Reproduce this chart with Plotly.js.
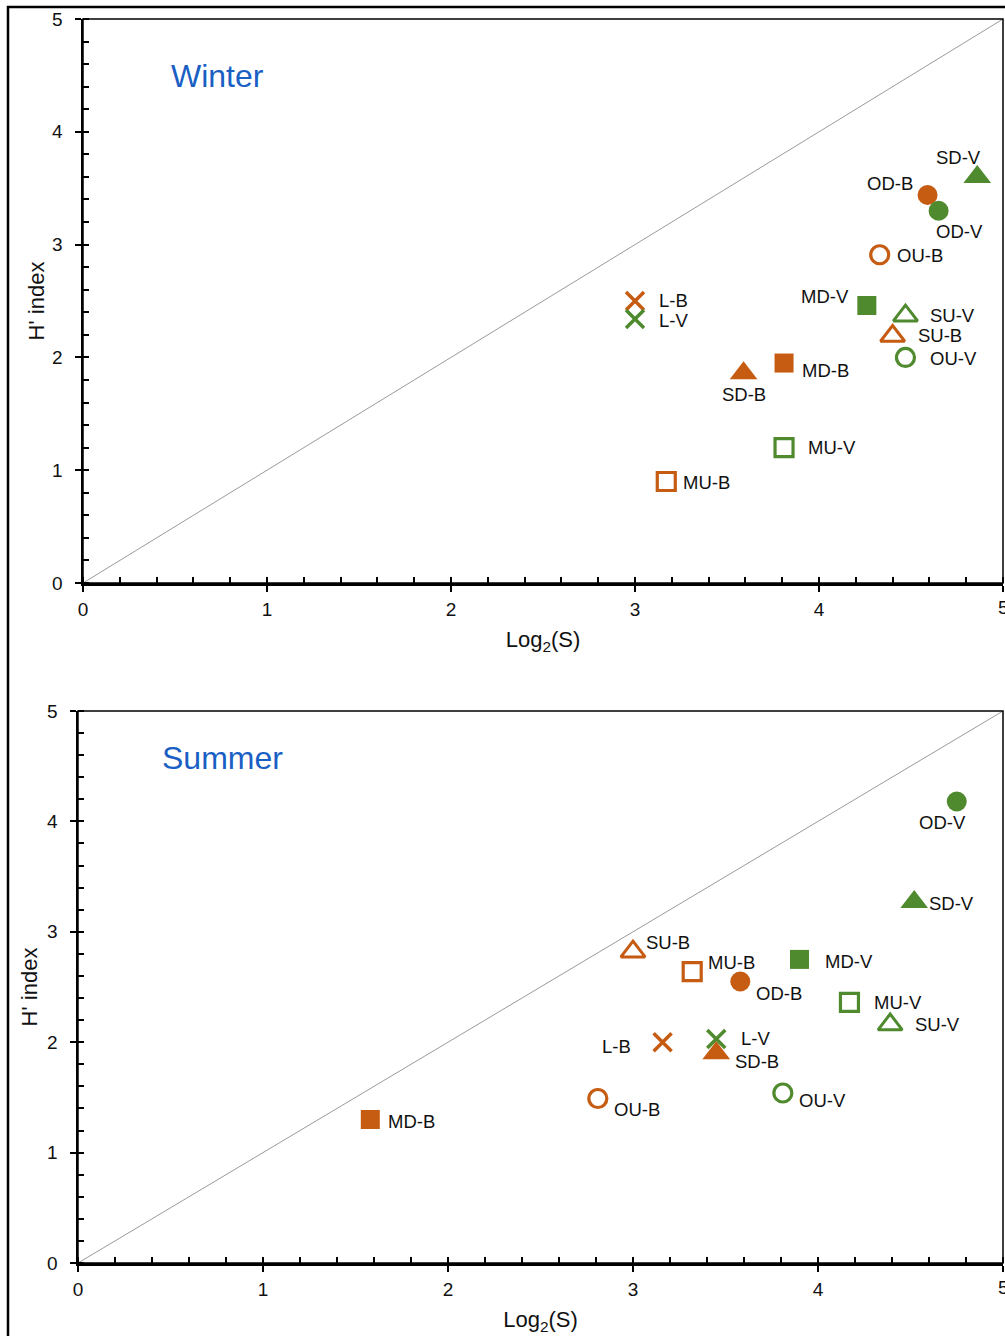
<!DOCTYPE html>
<html>
<head>
<meta charset="utf-8">
<script src="https://cdn.plot.ly/plotly-3.0.1.min.js"></script>
<style>
  html, body { margin: 0; padding: 0; background: #fff; }
  #chart { width: 1005px; height: 1336px; }
</style>
</head>
<body>
<div id="chart"></div>
<script>
// Sampling sites (B / V pairs) and their diversity values
const sites = ['L-B', 'L-V', 'SD-B', 'SD-V', 'SU-B', 'SU-V', 'MD-B', 'MD-V', 'MU-B', 'MU-V', 'OD-B', 'OD-V', 'OU-B', 'OU-V'];

// Winter: Log2(S) and H' index
const winterLog2S = [3.00, 3.00, 3.59, 4.86, 4.40, 4.47, 3.81, 4.26, 3.17, 3.81, 4.59, 4.65, 4.33, 4.47];
const winterH     = [2.50, 2.34, 1.86, 3.60, 2.19, 2.37, 1.95, 2.46, 0.90, 1.20, 3.44, 3.30, 2.91, 2.00];

// Summer: Log2(S) and H' index
const summerLog2S = [3.16, 3.45, 3.45, 4.52, 3.00, 4.39, 1.58, 3.90, 3.32, 4.17, 3.58, 4.75, 2.81, 3.81];
const summerH     = [2.00, 2.03, 1.90, 3.27, 2.82, 2.16, 1.30, 2.75, 2.64, 2.36, 2.55, 4.18, 1.49, 1.54];

const axisTicks = [0, 1, 2, 3, 4, 5];

// Marker styling per site
const ORANGE = '#C65B12';
const GREEN = '#4F8A2E';
const colors = sites.map(s => s.endsWith('-B') ? ORANGE : GREEN);
const symbolFor = { 'L': 'x-thin-open', 'SD': 'triangle-up', 'SU': 'triangle-up-open', 'MD': 'square', 'MU': 'square-open', 'OD': 'circle', 'OU': 'circle-open' };
const sizeFor = { 'L': 18, 'SD': 24, 'SU': 21, 'MD': 19, 'MU': 18, 'OD': 20, 'OU': 18 };
const lineFor = { 'L': 3.5, 'SD': 0, 'SU': 3, 'MD': 0, 'MU': 3.2, 'OD': 0, 'OU': 3.2 };
const kind = s => s.split('-')[0];
const symbols = sites.map(s => symbolFor[kind(s)]);
const sizes = sites.map(s => sizeFor[kind(s)]);
const lineWidths = sites.map(s => lineFor[kind(s)]);

// Label offsets (pixels, right / down) for each site
const winterLabelShift = {
  'L-B': [38, 0], 'L-V': [38, 1], 'SD-B': [0, 21], 'SD-V': [-19, -19],
  'SU-B': [47, 0], 'SU-V': [47, 0], 'MD-B': [41, 7], 'MD-V': [-42, -9],
  'MU-B': [40, 1], 'MU-V': [48, 0], 'OD-B': [-38, -11], 'OD-V': [21, 21],
  'OU-B': [40, 1], 'OU-V': [48, 1]
};
const summerLabelShift = {
  'L-B': [-46, 4], 'L-V': [39, 0], 'SD-B': [41, 8], 'SD-V': [37, 2],
  'SU-B': [35, -9], 'SU-V': [47, 0], 'MD-B': [41, 2], 'MD-V': [49, 2],
  'MU-B': [39, -9], 'MU-V': [49, 0], 'OD-B': [39, 12], 'OD-V': [-14, 21],
  'OU-B': [39, 11], 'OU-V': [40, 8]
};

const FONT = 'Liberation Sans, Arial, sans-serif';

function markerTrace(xs, ys, xa, ya) {
  return {
    type: 'scatter', mode: 'markers',
    x: xs, y: ys, xaxis: xa, yaxis: ya,
    text: sites, hoverinfo: 'text+x+y',
    marker: {
      symbol: symbols, size: sizes, color: colors, opacity: 1,
      line: { color: colors, width: lineWidths }
    },
    showlegend: false, cliponaxis: false
  };
}

function labelAnnotations(xs, ys, xref, yref, shifts) {
  return sites.map((s, i) => ({
    x: xs[i], y: ys[i], xref: xref, yref: yref,
    text: s, showarrow: false, xanchor: 'center', yanchor: 'middle',
    xshift: shifts[s][0], yshift: -shifts[s][1],
    font: { family: FONT, size: 18.5, color: '#111' }
  }));
}

const data = [
  markerTrace(winterLog2S, winterH, 'x', 'y'),
  markerTrace(summerLog2S, summerH, 'x2', 'y2')
];

const W = 1005, H = 1336;
const topDom = { x: [83 / W, 1003 / W], y: [(H - 583) / H, (H - 19) / H] };
const botDom = { x: [78 / W, 1003 / W], y: [(H - 1263) / H, (H - 711) / H] };

function mainAxis(domain, anchor, titleText, standoff, labelGap) {
  return {
    domain: domain, anchor: anchor, range: [0, 5],
    tickmode: 'array', tickvals: axisTicks, ticktext: axisTicks.map(String),
    ticks: 'outside', ticklen: 6, tickwidth: 2, tickcolor: '#000',
    ticklabelstandoff: labelGap,
    minor: { ticks: 'inside', dtick: 0.2, ticklen: 6, tickwidth: 2, tickcolor: '#000', showgrid: false },
    showline: true, linewidth: 2.5, linecolor: '#000',
    showgrid: false, zeroline: false,
    tickfont: { family: FONT, size: 19, color: '#111' },
    title: { text: titleText, font: { family: FONT, size: 22, color: '#111' }, standoff: standoff },
    fixedrange: true
  };
}

// Inner halves of the major ticks, so they cross the axis line
function innerTickAxis(domain, anchor, overlay) {
  return {
    domain: domain, anchor: anchor, overlaying: overlay, range: [0, 5],
    tickmode: 'array', tickvals: axisTicks, ticks: 'inside', ticklen: 5, tickwidth: 2, tickcolor: '#000',
    showticklabels: false, showline: false, showgrid: false, zeroline: false, fixedrange: true
  };
}

// The last x tick label sits on the right edge of the page and is partly cut off
function edgeTickLabel(xref, yref) {
  return {
    x: 5, y: 0, xref: xref, yref: yref, text: '5', showarrow: false,
    xanchor: 'center', yanchor: 'top', yshift: -12,
    font: { family: FONT, size: 19, color: '#111' }
  };
}

const layout = {
  width: W, height: H,
  margin: { l: 0, r: 0, t: 0, b: 0 },
  paper_bgcolor: '#fff', plot_bgcolor: '#fff',
  font: { family: FONT, color: '#111' },
  xaxis: mainAxis(topDom.x, 'y', 'Log<sub>2</sub>(S)', 13, 2),
  yaxis: mainAxis(topDom.y, 'x', "H' index", 2, 8),
  xaxis2: mainAxis(botDom.x, 'y2', 'Log<sub>2</sub>(S)', 13, 2),
  yaxis2: mainAxis(botDom.y, 'x2', "H' index", 4, 8),
  xaxis3: innerTickAxis(topDom.x, 'y', 'x'),
  yaxis3: innerTickAxis(topDom.y, 'x', 'y'),
  xaxis4: innerTickAxis(botDom.x, 'y2', 'x2'),
  yaxis4: innerTickAxis(botDom.y, 'x2', 'y2'),
  shapes: [
    // outer frame
    { type: 'rect', xref: 'paper', yref: 'paper', x0: 8 / W, x1: 1.02, y0: -0.02, y1: (H - 7) / H,
      line: { color: '#000', width: 2.5 }, layer: 'below' },
    // plot boxes
    { type: 'rect', xref: 'x domain', yref: 'y domain', x0: 0, x1: 1, y0: 0, y1: 1, line: { color: '#000', width: 1.5 } },
    { type: 'rect', xref: 'x2 domain', yref: 'y2 domain', x0: 0, x1: 1, y0: 0, y1: 1, line: { color: '#000', width: 1.5 } },
    // 1:1 reference lines
    { type: 'line', xref: 'x', yref: 'y', x0: 0, y0: 0, x1: 5, y1: 5, line: { color: '#9a9a9a', width: 1 }, layer: 'below' },
    { type: 'line', xref: 'x2', yref: 'y2', x0: 0, y0: 0, x1: 5, y1: 5, line: { color: '#9a9a9a', width: 1 }, layer: 'below' }
  ],
  annotations: [
    { x: 217 / W, y: (H - 76) / H, xref: 'paper', yref: 'paper', xanchor: 'center', yanchor: 'middle',
      text: 'Winter', showarrow: false, font: { family: FONT, size: 32, color: '#1A5FC4' } },
    { x: 222 / W, y: (H - 758) / H, xref: 'paper', yref: 'paper', xanchor: 'center', yanchor: 'middle',
      text: 'Summer', showarrow: false, font: { family: FONT, size: 32, color: '#1A5FC4' } },
    edgeTickLabel('x', 'y'),
    edgeTickLabel('x2', 'y2')
  ]
    .concat(labelAnnotations(winterLog2S, winterH, 'x', 'y', winterLabelShift))
    .concat(labelAnnotations(summerLog2S, summerH, 'x2', 'y2', summerLabelShift))
};

Plotly.newPlot('chart', data, layout, { displayModeBar: false, staticPlot: true });
</script>
</body>
</html>
